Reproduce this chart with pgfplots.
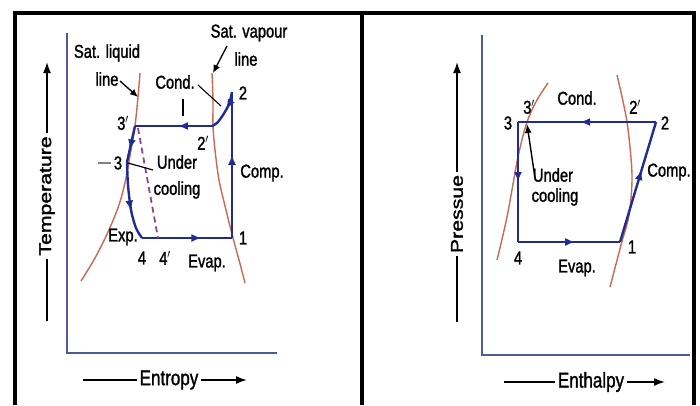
\documentclass[border=0pt]{standalone}
\usepackage{pgfplots}
\pgfplotsset{compat=1.18}
\usepackage{fontspec}
\setmainfont{Liberation Sans}[FakeBold=1.6]
\usetikzlibrary{arrows.meta,decorations.markings}
\definecolor{cyc}{RGB}{32,44,145}
\definecolor{sat}{RGB}{200,105,85}
\definecolor{axc}{RGB}{75,92,150}
\definecolor{dsh}{RGB}{140,70,140}
\newcommand{\lb}[1]{\scalebox{0.95}[1.2]{#1}}
\newcommand{\ax}[1]{\scalebox{1}[1.25]{#1}}
\newcommand{\axr}[1]{\scalebox{1.25}[1]{#1}}
\tikzset{
  midarrow/.style={postaction={decorate},decoration={markings,mark=at position #1 with {\arrow{Latex[length=10pt,width=8pt]}}}},
  lab/.style={font=\fontsize{15.5}{17}\selectfont,inner sep=0pt},
  axl/.style={font=\fontsize{17}{19}\selectfont,fill=white,inner sep=3pt},
}
\begin{document}
\begin{tikzpicture}
\useasboundingbox (0,0) rectangle (700pt,405pt);
\begin{axis}[width=700pt,height=405pt,scale only axis,xmin=0,xmax=700,ymin=0,ymax=405,
  y dir=reverse,hide axis,clip=false]
% frame
\addplot[black,line width=4pt] coordinates {(15,405)(15,13)(694,13)(694,405)};
\addplot[black,line width=4.5pt] coordinates {(362,13)(362,405)};
% ===== left panel =====
\addplot[axc,line width=1.6pt] coordinates {(67,33)(67,353)(277,353)};
\addplot[black,line width=1.6pt,-{Latex[length=11pt,width=8pt]}] coordinates {(47,321)(47,62)};
\node[axl,rotate=90] at (axis cs:47,196) {\axr{Temperature}};
\addplot[black,line width=1.6pt,-{Latex[length=11pt,width=8pt]}] coordinates {(83,380)(247,380)};
\node[axl] at (axis cs:169,380) {\ax{Entropy}};
% saturation lines
\addplot[sat,line width=1.4pt,smooth] coordinates {(81,281)(95,258)(108,232)(119,205)(126,178)(131,150)(135,126)(138,97)(140,73)};
\addplot[sat,line width=1.4pt,smooth] coordinates {(212,73)(213,100)(213,126)(215,150)(219,180)(226,210)(233,238)(239,260)(245,283)};
% cycle
\addplot[cyc,line width=2.4pt,midarrow=0.57] coordinates {(232,238)(232,92)};
\addplot[cyc,line width=2.4pt,smooth,midarrow=0.45] coordinates {(232,92)(229,104)(223,115)(217,123)(212,126)};
\addplot[cyc,line width=2.4pt,midarrow=0.45] coordinates {(213,126)(135,126)};
\addplot[cyc,line width=2.4pt,midarrow=0.65] coordinates {(135,126)(127,162)};
\addplot[cyc,line width=2.4pt,smooth,midarrow=0.62] coordinates {(127,162)(128,185)(131,210)(136,228)(142,238)};
\addplot[cyc,line width=2.4pt,midarrow=0.66] coordinates {(142,238)(232,238)};
\addplot[dsh,line width=1.8pt,dash pattern=on 6pt off 4pt] coordinates {(138,128)(158,238)};
% labels
\node[lab] at (axis cs:107,53) {\lb{Sat. liquid}};
\node[lab] at (axis cs:107,79) {\lb{line}};
\addplot[black,line width=1.3pt,-{Latex[length=8pt,width=7pt]}] coordinates {(120,81)(138,97)};
\node[lab] at (axis cs:249,33) {\lb{Sat. vapour}};
\node[lab] at (axis cs:246,59) {\lb{line}};
\addplot[black,line width=1.3pt,-{Latex[length=8pt,width=7pt]}] coordinates {(227,46)(213,73)};
\node[lab] at (axis cs:175,82) {\lb{Cond.}};
\addplot[black,line width=1.1pt] coordinates {(183,99)(183,116)};
\addplot[black,line width=1.1pt] coordinates {(198,85)(221,106)};
\node[lab] at (axis cs:243,93) {\lb{2}};
\node[lab] at (axis cs:123,123) {\lb{3$'$}};
\node[lab] at (axis cs:203,143) {\lb{2$'$}};
\addplot[gray,line width=1.2pt] coordinates {(98,163)(111,163)};
\node[lab] at (axis cs:118,163) {\lb{3}};
\node[lab] at (axis cs:177,162) {\lb{Under}};
\node[lab] at (axis cs:177,190) {\lb{cooling}};
\addplot[black,line width=1.2pt] coordinates {(153,170)(128,163)};
\node[lab] at (axis cs:262,173) {\lb{Comp.}};
\node[lab] at (axis cs:123,237) {\lb{Exp.}};
\node[lab] at (axis cs:142,258) {\lb{4}};
\node[lab] at (axis cs:165,258) {\lb{4$'$}};
\node[lab] at (axis cs:207,263) {\lb{Evap.}};
\node[lab] at (axis cs:243,238) {\lb{1}};
% ===== right panel =====
\addplot[axc,line width=1.6pt] coordinates {(482,35)(482,355)(690,355)};
\addplot[black,line width=1.6pt,-{Latex[length=11pt,width=8pt]}] coordinates {(457,322)(457,62)};
\node[axl,rotate=90] at (axis cs:457,214) {\axr{Pressue}};
\addplot[black,line width=1.6pt,-{Latex[length=11pt,width=8pt]}] coordinates {(504,382)(665,382)};
\node[axl] at (axis cs:591,382) {\ax{Enthalpy}};
\addplot[sat,line width=1.4pt,smooth] coordinates {(497,260)(507,217)(518,157)(527,122)(537,100)(548,83)};
\addplot[sat,line width=1.4pt,smooth] coordinates {(617,75)(627,122)(632,175)(629,215)(621,245)(610,287)};
\addplot[cyc,line width=2.4pt,midarrow=0.55] coordinates {(656,122)(518,122)};
\addplot[cyc,line width=2.4pt,midarrow=0.5] coordinates {(518,122)(518,242)};
\addplot[cyc,line width=2.4pt,midarrow=0.56] coordinates {(518,242)(620,242)};
\addplot[cyc,line width=2.4pt,midarrow=0.6] coordinates {(620,242)(656,122)};
\node[lab] at (axis cs:508,123) {\lb{3}};
\node[lab] at (axis cs:529,107) {\lb{3$'$}};
\node[lab] at (axis cs:577,98) {\lb{Cond.}};
\node[lab] at (axis cs:635,107) {\lb{2$'$}};
\node[lab] at (axis cs:665,123) {\lb{2}};
\node[lab] at (axis cs:553,175) {\lb{Under}};
\node[lab] at (axis cs:555,197) {\lb{cooling}};
\addplot[black,line width=1.4pt,-{Latex[length=9pt,width=7pt]}] coordinates {(535,178)(527,124)};
\node[lab] at (axis cs:669,172) {\lb{Comp.}};
\node[lab] at (axis cs:632,247) {\lb{1}};
\node[lab] at (axis cs:518,258) {\lb{4}};
\node[lab] at (axis cs:577,268) {\lb{Evap.}};
\end{axis}
\end{tikzpicture}
\end{document}
